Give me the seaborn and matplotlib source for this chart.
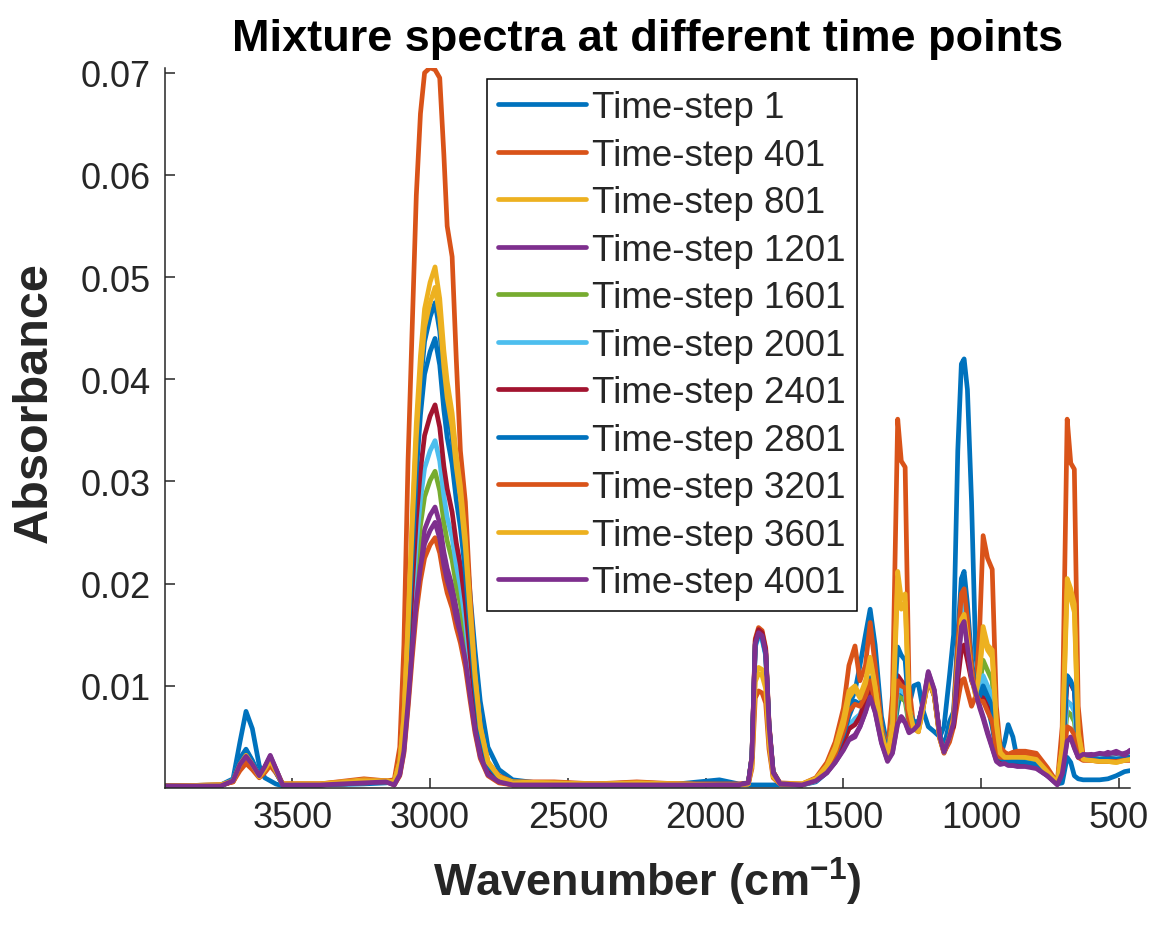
import matplotlib
matplotlib.use("Agg")
import matplotlib.pyplot as plt
import pandas as pd
import seaborn as sns

# ---------------- data ----------------
wavenumber = [
    3962, 3760, 3715, 3690, 3668, 3645, 3620, 3600, 3580, 3560, 3535, 3400, 3240, 3160,
    3130, 3110, 3095, 3080, 3065, 3050, 3035, 3020, 3000, 2982, 2965, 2950, 2938, 2920, 2905, 2890, 2872, 2855, 2837, 2818, 2790, 2750, 2700,
    2550, 2400, 2250, 2100, 1950, 1880, 1845, 1832, 1820, 1808, 1795, 1782, 1770, 1755, 1730,
    1650, 1600, 1560, 1530, 1500, 1480, 1458, 1440, 1420, 1403, 1385, 1362, 1340, 1322, 1303, 1290, 1276, 1262, 1245, 1228, 1210, 1192, 1170, 1150, 1135, 1115,
    1100, 1085, 1072, 1062, 1050, 1035, 1020, 1005, 993, 977, 960, 945, 931, 915, 902, 885, 869, 840, 800, 760, 724, 706, 688, 675, 662, 648, 630, 600, 570, 540, 510, 480, 460,
]

ts1 = [
    .0002, .0003, .0009, .0045, .0075, .0058, .0022, .0010, .0007, .0004, .0002, .0003, .0004, .0005,
    .0006, .0024, .0067, .0152, .0247, .0333, .0394, .0437, .0461, .0475, .0447, .0399, .0371, .0342, .0304, .0290, .0250, .0190, .0135, .0085, .0040, .0018, .0008,
    .0003, .0003, .0003, .0004, .0008, .0004, .0003, .0003, .0003, .0003, .0003, .0003, .0003, .0003, .0003,
    .0003, .0006, .0015, .0030, .0055, .0080, .0095, .0120, .0150, .0175, .0140, .0070, .0040, .0045, .0080, .0095, .0085, .0080, .0100, .0102, .0075, .0060, .0055, .0050, .0060, .0110,
    .0150, .0330, .0415, .0420, .0390, .0280, .0130, .0100, .0095, .0080, .0060, .0035, .0030, .0045, .0062, .0050, .0028, .0022, .0020, .0012, .0004, .0005, .0030, .0025, .0012, .0009, .0008, .0008, .0008, .0009, .0012, .0016, .0017,
]
ts401 = [
    .0002, .0003, .0006, .0017, .0024, .0018, .0010, .0015, .0022, .0015, .0004, .0004, .0009, .0007,
    .0008, .0040, .0140, .0320, .0450, .0580, .0660, .0700, .0705, .0703, .0695, .0620, .0550, .0520, .0420, .0330, .0280, .0190, .0110, .0060, .0025, .0012, .0006,
    .0006, .0004, .0006, .0004, .0004, .0004, .0005, .0031, .0146, .0157, .0154, .0137, .0063, .0016, .0005,
    .0004, .0010, .0025, .0045, .0078, .0120, .0139, .0105, .0120, .0162, .0120, .0060, .0035, .0090, .0361, .0320, .0314, .0100, .0060, .0055, .0080, .0105, .0090, .0050, .0035, .0045,
    .0060, .0085, .0105, .0107, .0095, .0080, .0090, .0160, .0247, .0225, .0214, .0080, .0040, .0035, .0033, .0035, .0036, .0036, .0034, .0020, .0005, .0060, .0361, .0318, .0312, .0080, .0030, .0028, .0027, .0027, .0026, .0028, .0028,
]
ts801 = [
    .0002, .0003, .0007, .0022, .0030, .0022, .0011, .0017, .0026, .0017, .0004, .0004, .0008, .0007,
    .0006, .0026, .0071, .0163, .0265, .0357, .0423, .0469, .0495, .0510, .0479, .0428, .0398, .0367, .0326, .0296, .0245, .0179, .0112, .0061, .0026, .0011, .0006,
    .0005, .0004, .0005, .0004, .0003, .0003, .0004, .0024, .0110, .0118, .0116, .0103, .0047, .0012, .0004,
    .0004, .0009, .0022, .0040, .0068, .0095, .0100, .0090, .0105, .0128, .0100, .0055, .0032, .0065, .0212, .0185, .0190, .0080, .0058, .0055, .0080, .0108, .0090, .0048, .0035, .0050,
    .0070, .0130, .0170, .0175, .0150, .0110, .0090, .0120, .0158, .0140, .0135, .0065, .0035, .0030, .0030, .0030, .0030, .0030, .0028, .0016, .0005, .0040, .0205, .0195, .0180, .0055, .0028, .0027, .0026, .0026, .0025, .0027, .0028,
]
ts1201 = [
    .0002, .0002, .0007, .0024, .0032, .0024, .0012, .0020, .0031, .0019, .0003, .0003, .0005, .0006,
    .0003, .0014, .0039, .0088, .0143, .0193, .0228, .0253, .0267, .0275, .0259, .0231, .0215, .0198, .0176, .0160, .0132, .0096, .0061, .0033, .0014, .0006, .0003,
    .0003, .0003, .0003, .0003, .0003, .0003, .0005, .0030, .0141, .0152, .0149, .0132, .0061, .0015, .0004,
    .0003, .0007, .0015, .0025, .0038, .0048, .0052, .0060, .0075, .0090, .0075, .0045, .0027, .0035, .0065, .0070, .0065, .0055, .0058, .0062, .0085, .0113, .0095, .0050, .0036, .0050,
    .0065, .0120, .0160, .0165, .0140, .0110, .0095, .0080, .0070, .0055, .0040, .0027, .0024, .0025, .0023, .0022, .0022, .0022, .0020, .0012, .0004, .0015, .0048, .0050, .0040, .0030, .0032, .0033, .0031, .0035, .0032, .0034, .0036,
]
ts1601 = [
    .0002, .0002, .0007, .0026, .0035, .0025, .0012, .0019, .0029, .0018, .0003, .0003, .0005, .0006,
    .0004, .0016, .0043, .0099, .0161, .0217, .0257, .0285, .0301, .0310, .0291, .0260, .0242, .0223, .0198, .0180, .0149, .0109, .0068, .0037, .0016, .0007, .0003,
    .0003, .0003, .0003, .0003, .0003, .0003, .0005, .0030, .0140, .0150, .0147, .0131, .0060, .0015, .0004,
    .0003, .0007, .0017, .0028, .0045, .0058, .0065, .0068, .0082, .0098, .0080, .0048, .0029, .0042, .0090, .0088, .0085, .0062, .0060, .0062, .0083, .0110, .0092, .0050, .0037, .0055,
    .0068, .0130, .0170, .0175, .0150, .0112, .0095, .0100, .0125, .0115, .0105, .0050, .0030, .0028, .0027, .0027, .0027, .0026, .0024, .0014, .0005, .0022, .0075, .0072, .0065, .0035, .0030, .0030, .0029, .0030, .0029, .0030, .0031,
]
ts2001 = [
    .0002, .0002, .0008, .0028, .0037, .0026, .0012, .0018, .0027, .0016, .0003, .0003, .0005, .0006,
    .0004, .0017, .0048, .0109, .0177, .0238, .0282, .0313, .0330, .0340, .0320, .0286, .0265, .0245, .0218, .0197, .0163, .0119, .0075, .0041, .0017, .0007, .0004,
    .0003, .0003, .0003, .0003, .0003, .0003, .0004, .0030, .0138, .0148, .0145, .0129, .0059, .0015, .0004,
    .0003, .0007, .0017, .0029, .0047, .0061, .0068, .0072, .0086, .0102, .0082, .0050, .0030, .0045, .0098, .0095, .0092, .0065, .0062, .0063, .0083, .0110, .0092, .0050, .0038, .0058,
    .0070, .0135, .0178, .0182, .0155, .0115, .0095, .0095, .0110, .0100, .0090, .0045, .0029, .0027, .0026, .0026, .0026, .0025, .0023, .0014, .0005, .0025, .0085, .0082, .0075, .0035, .0030, .0030, .0029, .0030, .0029, .0030, .0031,
]
ts2401 = [
    .0002, .0002, .0007, .0025, .0034, .0025, .0012, .0020, .0030, .0018, .0003, .0003, .0005, .0006,
    .0005, .0019, .0053, .0120, .0195, .0263, .0311, .0345, .0364, .0375, .0353, .0315, .0293, .0270, .0240, .0218, .0180, .0131, .0083, .0045, .0019, .0008, .0004,
    .0003, .0003, .0003, .0003, .0003, .0003, .0005, .0031, .0144, .0155, .0152, .0135, .0062, .0016, .0004,
    .0003, .0008, .0018, .0030, .0045, .0058, .0062, .0070, .0085, .0100, .0082, .0050, .0030, .0050, .0110, .0105, .0100, .0068, .0062, .0063, .0083, .0110, .0092, .0050, .0037, .0055,
    .0060, .0105, .0135, .0140, .0125, .0105, .0095, .0090, .0088, .0080, .0070, .0040, .0028, .0026, .0025, .0025, .0025, .0024, .0022, .0013, .0005, .0030, .0105, .0102, .0095, .0040, .0030, .0029, .0028, .0029, .0028, .0029, .0030,
]
ts2801 = [
    .0002, .0002, .0008, .0029, .0038, .0027, .0012, .0018, .0027, .0016, .0003, .0003, .0005, .0006,
    .0005, .0022, .0062, .0141, .0229, .0308, .0365, .0405, .0427, .0440, .0414, .0370, .0343, .0317, .0282, .0255, .0211, .0154, .0097, .0053, .0022, .0010, .0005,
    .0003, .0003, .0003, .0003, .0003, .0003, .0005, .0030, .0140, .0150, .0147, .0131, .0060, .0015, .0004,
    .0003, .0008, .0019, .0032, .0052, .0070, .0085, .0082, .0092, .0108, .0088, .0055, .0037, .0060, .0138, .0130, .0125, .0075, .0065, .0065, .0082, .0108, .0090, .0052, .0040, .0065,
    .0075, .0150, .0205, .0212, .0180, .0125, .0095, .0090, .0100, .0090, .0080, .0042, .0029, .0027, .0026, .0026, .0026, .0025, .0023, .0014, .0005, .0032, .0110, .0105, .0095, .0040, .0030, .0029, .0028, .0029, .0028, .0029, .0030,
]
ts3201 = [
    .0002, .0003, .0006, .0020, .0027, .0020, .0011, .0017, .0025, .0016, .0004, .0004, .0007, .0007,
    .0003, .0012, .0034, .0078, .0127, .0172, .0203, .0225, .0238, .0245, .0230, .0206, .0191, .0176, .0157, .0142, .0118, .0086, .0054, .0029, .0012, .0005, .0003,
    .0005, .0004, .0005, .0004, .0003, .0003, .0004, .0019, .0088, .0095, .0093, .0083, .0038, .0010, .0004,
    .0003, .0008, .0019, .0033, .0055, .0075, .0082, .0080, .0090, .0105, .0085, .0052, .0032, .0048, .0105, .0100, .0098, .0065, .0058, .0058, .0080, .0108, .0090, .0048, .0034, .0048,
    .0072, .0140, .0190, .0195, .0165, .0118, .0092, .0085, .0085, .0075, .0065, .0038, .0030, .0030, .0030, .0031, .0032, .0032, .0030, .0017, .0005, .0020, .0060, .0058, .0052, .0030, .0027, .0027, .0026, .0026, .0026, .0027, .0027,
]
ts3601 = [
    .0002, .0003, .0007, .0023, .0032, .0023, .0011, .0018, .0027, .0017, .0004, .0004, .0007, .0007,
    .0006, .0025, .0069, .0157, .0255, .0343, .0407, .0451, .0475, .0490, .0461, .0412, .0382, .0353, .0314, .0284, .0235, .0172, .0108, .0059, .0025, .0011, .0005,
    .0005, .0004, .0005, .0004, .0003, .0003, .0004, .0022, .0104, .0112, .0110, .0097, .0045, .0011, .0004,
    .0004, .0009, .0021, .0037, .0062, .0088, .0097, .0088, .0102, .0125, .0098, .0054, .0032, .0062, .0200, .0175, .0182, .0078, .0058, .0056, .0080, .0108, .0090, .0048, .0035, .0050,
    .0068, .0125, .0165, .0170, .0145, .0108, .0090, .0115, .0150, .0135, .0128, .0062, .0034, .0030, .0030, .0030, .0030, .0030, .0028, .0016, .0005, .0038, .0195, .0186, .0172, .0052, .0028, .0027, .0026, .0026, .0025, .0027, .0028,
]
ts4001 = [
    .0002, .0002, .0007, .0023, .0031, .0023, .0012, .0021, .0032, .0019, .0003, .0003, .0005, .0006,
    .0003, .0013, .0036, .0083, .0135, .0182, .0216, .0239, .0252, .0260, .0244, .0218, .0203, .0187, .0166, .0151, .0125, .0091, .0057, .0031, .0013, .0006, .0003,
    .0003, .0003, .0003, .0003, .0003, .0003, .0005, .0030, .0141, .0152, .0149, .0132, .0061, .0015, .0004,
    .0003, .0007, .0015, .0025, .0037, .0047, .0050, .0060, .0074, .0089, .0074, .0044, .0026, .0034, .0063, .0068, .0064, .0054, .0057, .0062, .0086, .0114, .0096, .0050, .0035, .0050,
    .0064, .0118, .0158, .0163, .0138, .0108, .0093, .0078, .0068, .0053, .0039, .0026, .0023, .0024, .0022, .0022, .0021, .0021, .0019, .0012, .0003, .0014, .0046, .0049, .0039, .0030, .0033, .0032, .0034, .0033, .0036, .0032, .0037,
]

series_labels = ["Time-step 1", "Time-step 401", "Time-step 801", "Time-step 1201",
                 "Time-step 1601", "Time-step 2001", "Time-step 2401", "Time-step 2801",
                 "Time-step 3201", "Time-step 3601", "Time-step 4001"]
series_values = [ts1, ts401, ts801, ts1201, ts1601, ts2001, ts2401, ts2801, ts3201, ts3601, ts4001]
series_colors = ["#0072BD", "#D95319", "#EDB120", "#7E2F8E", "#77AC30", "#4DBEEE",
                 "#A2142F", "#0072BD", "#D95319", "#EDB120", "#7E2F8E"]

y_ticks = [0.01, 0.02, 0.03, 0.04, 0.05, 0.06, 0.07]
x_ticks = [3500, 3000, 2500, 2000, 1500, 1000, 500]

for vals in series_values:
    assert len(vals) == len(wavenumber), len(vals)

df = pd.concat(
    [pd.DataFrame({"wavenumber": wavenumber, "absorbance": vals, "series": lab})
     for vals, lab in zip(series_values, series_labels)],
    ignore_index=True,
)

# ---------------- style ----------------
sns.set_theme(style="ticks")
plt.rcParams["font.family"] = ["Liberation Sans", "DejaVu Sans"]
plt.rcParams["mathtext.fontset"] = "custom"
plt.rcParams["mathtext.rm"] = "Liberation Sans"
plt.rcParams["mathtext.bf"] = "Liberation Sans:bold"
plt.rcParams["mathtext.default"] = "bf"

W, H = 1155, 928
fig = plt.figure(figsize=(W / 100, H / 100), dpi=100)
ax_left, ax_right, ax_bottom, ax_top = 165, 1130, 789, 68.7
ax = fig.add_axes([ax_left / W, 1 - ax_bottom / H, (ax_right - ax_left) / W, (ax_bottom - ax_top) / H])

sns.lineplot(data=df, x="wavenumber", y="absorbance", hue="series",
             hue_order=series_labels, palette=dict(zip(series_labels, series_colors)),
             sort=False, estimator=None, linewidth=3.4, ax=ax)

ax.set_xlim(3962, 460)
ax.set_ylim(0, 0.0705)
ax.set_xticks(x_ticks)
ax.set_yticks(y_ticks)
ax.set_yticklabels([f"{v:.2f}" for v in y_ticks])

dark = "#262626"
for side in ["top", "right"]:
    ax.spines[side].set_visible(False)
for side in ["left", "bottom"]:
    ax.spines[side].set_color(dark)
    ax.spines[side].set_linewidth(1.1)
ax.tick_params(axis="both", direction="in", length=7, width=1.1, colors=dark,
               labelsize=26, labelcolor=dark)
ax.tick_params(axis="y", pad=10)
ax.tick_params(axis="x", pad=9)

ax.set_title("Mixture spectra at different time points", fontsize=32.5, fontweight="bold", pad=13, color="black")
ax.set_xlabel("Wavenumber (cm$^{-1}$)", fontsize=32.5, fontweight="bold", labelpad=14, color=dark)
ax.set_ylabel("Absorbance", fontsize=35, fontweight="bold", color=dark)
ax.yaxis.set_label_coords(-0.112, 0.537)

handles = ax.get_legend().legend_handles
for h in handles:
    h.set_linewidth(3.4)
ax.get_legend().remove()
leg = ax.legend(handles=handles, labels=series_labels, loc="upper left",
                bbox_to_anchor=(487 / W, 1 - 80 / H), bbox_transform=fig.transFigure,
                borderaxespad=0, fontsize=26.5, handlelength=2.4, handletextpad=0.15,
                labelspacing=0.34, borderpad=0.3, fancybox=False, framealpha=1,
                edgecolor="black")
leg.get_frame().set_linewidth(1.1)

fig.savefig("out.png", dpi=100)
